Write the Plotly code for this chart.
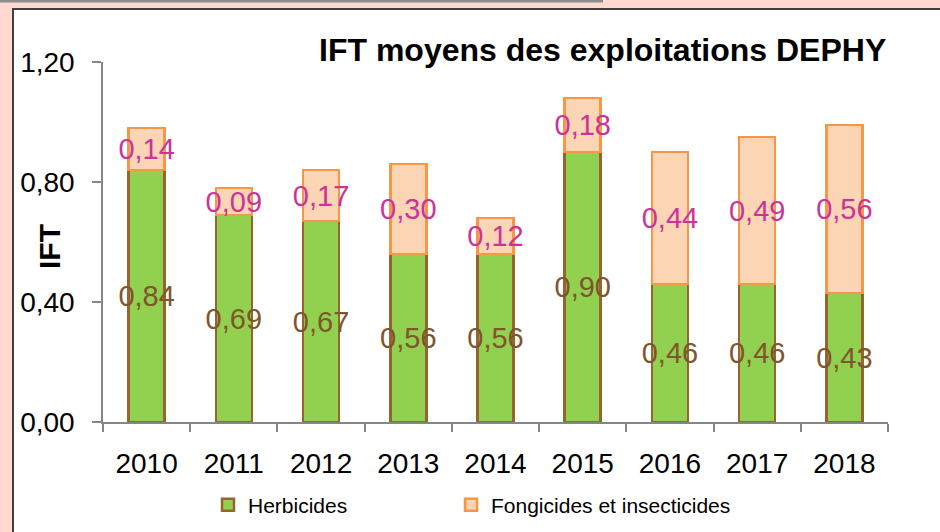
import plotly.graph_objects as go

years = ["2010", "2011", "2012", "2013", "2014", "2015", "2016", "2017", "2018"]
herbicides = [0.84, 0.69, 0.67, 0.56, 0.56, 0.90, 0.46, 0.46, 0.43]
fongicides = [0.14, 0.09, 0.17, 0.30, 0.12, 0.18, 0.44, 0.49, 0.56]
y_ticks = [0.0, 0.4, 0.8, 1.2]

def fmt(v):
    return f"{v:.2f}".replace(".", ",")

# pixel geometry helpers
L, R, T, B = 103, 888, 62, 422
W, H = R - L, B - T
def px(x):
    return (x - L) / W
def py(y):
    return (B - y) / H

fig = go.Figure()
fig.add_trace(go.Bar(
    x=years, y=herbicides, name="Herbicides", legend="legend",
    marker=dict(color="#92D050", line=dict(color="#97642F", width=2.5)),
    text=[fmt(v) for v in herbicides], textposition="inside", insidetextanchor="middle",
    textangle=0, constraintext="none",
    textfont=dict(family="Liberation Sans, Arial", size=29, color="#7F552B"),
    hoverinfo="skip",
))
fig.add_trace(go.Bar(
    x=years, y=fongicides, name="Fongicides et insecticides", legend="legend2",
    marker=dict(color="#FCD5B5", line=dict(color="#F79646", width=2.5)),
    text=[fmt(v) for v in fongicides], textposition="inside", insidetextanchor="middle",
    textangle=0, constraintext="none",
    textfont=dict(family="Liberation Sans, Arial", size=29, color="#CC3399"),
    hoverinfo="skip",
))

shapes = [
    dict(type="rect", xref="paper", yref="paper", layer="below",
         x0=px(13), x1=px(960), y0=py(9), y1=py(560),
         fillcolor="white", line=dict(color="#3F3F3F", width=2)),
    dict(type="rect", xref="paper", yref="paper", layer="below",
         x0=px(-5), x1=px(603), y0=py(-5), y1=py(2.5),
         fillcolor="#8C8C8C", line=dict(width=0)),
]

legend_common = dict(orientation="h", y=py(505), yanchor="middle", xanchor="left",
                     font=dict(size=21), bgcolor="rgba(0,0,0,0)")

fig.update_layout(
    width=940, height=532,
    margin=dict(l=L, r=940 - R, t=T, b=532 - B, autoexpand=False),
    paper_bgcolor="#FFD9D1", plot_bgcolor="rgba(0,0,0,0)",
    barmode="stack", bargap=0.587,
    separators=", ",
    font=dict(family="Liberation Sans, Arial", color="black"),
    showlegend=True,
    legend=dict(x=px(208), **legend_common),
    legend2=dict(x=px(451), **legend_common),
    shapes=shapes,
    annotations=[
        dict(text="<b>IFT moyens des exploitations DEPHY</b>", xref="paper", yref="paper",
             x=px(602), y=py(50), xanchor="center", yanchor="middle", showarrow=False,
             font=dict(size=32, color="black")),
        dict(text="<b>IFT</b>", xref="paper", yref="paper", textangle=-90,
             x=px(50), y=py(247), xanchor="center", yanchor="middle", showarrow=False,
             font=dict(size=30, color="black")),
    ],
)
fig.update_yaxes(range=[0, 1.2], tickvals=y_ticks, ticktext=[fmt(v) for v in y_ticks],
                 showgrid=False, zeroline=False, showline=True, linecolor="#868686", linewidth=1.5,
                 ticks="outside", ticklen=9, tickcolor="#868686", tickwidth=1.5,
                 tickfont=dict(size=28), ticklabelstandoff=12)
fig.update_xaxes(tickson="boundaries", showgrid=False, showline=True, linecolor="#868686",
                 linewidth=1.5, ticks="outside", ticklen=8, tickcolor="#868686", tickwidth=1.5,
                 tickfont=dict(size=28), ticklabelstandoff=16)

fig.write_html("out.html")
